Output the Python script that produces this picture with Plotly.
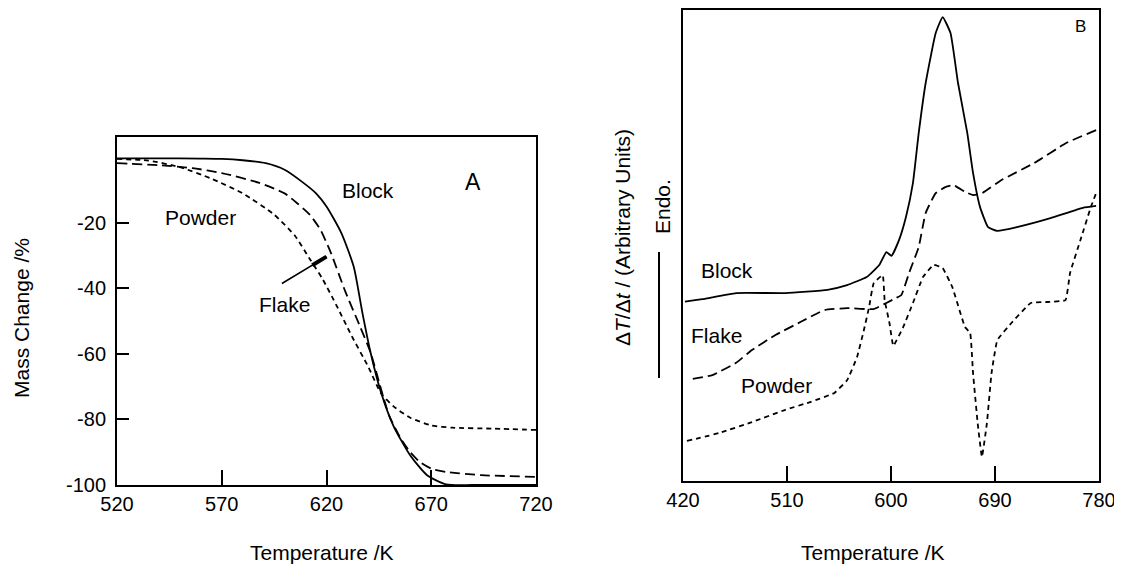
import plotly.graph_objects as go

# ---------------- Panel A: mass change (TGA) ----------------
a_block_T = [520, 540, 560, 570, 580, 591, 600, 609, 615, 620, 627, 633, 637, 641, 646, 652, 660, 668, 677, 690, 720]
a_block_v = [-0.3, -0.3, -0.4, -0.5, -0.9, -1.8, -3.8, -7.8, -11, -15, -23, -33.4, -47, -59.5, -71.7, -82, -91, -97, -99.8, -100, -100]

a_flake_T = [520, 540, 556, 570, 588, 600, 606, 612, 617, 622, 629, 636, 641, 646.6, 650, 655.6, 660, 664.6, 670, 677, 694, 720]
a_flake_v = [-1.8, -2.4, -3.3, -4.8, -7.8, -11, -14, -17.5, -22, -29, -41, -51.6, -59.5, -72, -79, -86, -90, -93, -95, -96, -97, -97.5]

a_powder_T = [520, 535, 550, 565, 580, 595, 605, 612, 618, 625, 632, 640, 646, 652, 660, 670, 680, 700, 720]
a_powder_v = [-0.5, -1, -3, -6.5, -11, -17.5, -24, -31, -37, -45.5, -54.5, -64, -72, -76, -79.5, -81.8, -82.5, -82.8, -83.2]

a_xticks = [520, 570, 620, 670, 720]
a_yticks = [-20, -40, -60, -80, -100]

# ---------------- Panel B: DTA (arbitrary units) ----------------
b_block_T = [421.7, 437, 466, 508.5, 545, 562, 579, 590, 596, 600.4, 607, 613, 619, 624, 630, 638.7, 644.7,
             651.5, 658, 666, 671, 677, 684, 692, 709, 738, 766, 777.5]
b_block_v = [38.1, 38.6, 39.9, 39.9, 40.6, 41.6, 43.3, 45.9, 48.6, 47.8, 51.2, 56.1, 63.3, 73.9, 84.5, 95.1, 98.5,
             95.1, 84.5, 73.9, 65.4, 58.2, 53.9, 53.1, 53.9, 55.8, 58.0, 58.4]

b_flake_T = [428.5, 445.5, 466, 479.6, 500, 522, 542.6, 562, 585, 596, 604.7, 609, 615.7, 624, 630, 638.7, 647,
             654, 664, 671, 678.7, 695.7, 723.8, 752, 777.5]
b_flake_v = [21.7, 22.5, 25.1, 27.8, 31.0, 33.8, 36.3, 36.7, 36.5, 37.8, 38.9, 39.5, 44.2, 49.7, 56.9, 61.1, 62.4,
             62.8, 61.4, 60.7, 61.1, 63.9, 67.5, 71.8, 74.5]

b_powder_T = [423.4, 451.5, 479.6, 508.5, 530.6, 551, 562, 570.6, 576.6, 581, 585, 592.8, 594.5, 598.7, 602,
              610.6, 619, 627.7, 637, 644.7, 653, 664, 668.5, 671, 675, 678.7, 683, 687, 692, 704, 721, 735,
              751, 755, 764, 773, 777.5]
b_powder_v = [8.5, 10.2, 12.5, 15.1, 16.8, 18.7, 21.4, 26.3, 32.1, 36.9, 42.0, 43.7, 38.4, 33.5, 28.7,
              32.7, 37.8, 43.3, 45.9, 45.2, 41.2, 32.7, 31.4, 22.9, 12.3, 5.1, 12.3, 22.9, 29.9, 33.5, 37.8, 38.0,
              38.4, 44.2, 51.2, 58.2, 61.1]

b_xticks = [420, 510, 600, 690, 780]

FONT = "Liberation Sans, Arial, Helvetica, sans-serif"
OFF = 8                      # default page (body) margin of the html page
W, H = 1122 - OFF, 569 - OFF
px = lambda x: (x - OFF) / W
py = lambda y: 1 - (y - OFF) / H

SOLID = "solid"
LONG = "10px,5px"
SHORT = "5px,4px"

fig = go.Figure()

def add(T, v, dash, xa, ya, smooth=0.6):
    fig.add_trace(go.Scatter(x=T, y=v, mode="lines", xaxis=xa, yaxis=ya, showlegend=False,
                             line=dict(color="black", width=1.8, dash=dash, shape="spline", smoothing=smooth),
                             hoverinfo="skip"))

add(a_block_T, a_block_v, SOLID, "x", "y")
add(a_flake_T, a_flake_v, LONG, "x", "y")
add(a_powder_T, a_powder_v, SHORT, "x", "y")

add(b_block_T, b_block_v, SOLID, "x2", "y2", 0.4)
add(b_flake_T, b_flake_v, LONG, "x2", "y2", 0.4)
add(b_powder_T, b_powder_v, SHORT, "x2", "y2", 0.3)

TICKFONT = dict(family=FONT, size=20, color="black")
axis_common = dict(showline=True, mirror=True, linecolor="black", linewidth=2, showgrid=False,
                   zeroline=False, tickcolor="black", tickwidth=1.5, tickfont=TICKFONT,
                   automargin=False)

fig.update_layout(
    width=W, height=H,
    margin=dict(l=0, r=0, t=0, b=0),
    paper_bgcolor="white", plot_bgcolor="white",
    font=dict(family=FONT, size=21, color="black"),
    xaxis=dict(domain=[px(117), px(536)], range=[520, 720], tickvals=a_xticks,
               ticktext=[str(t) for t in a_xticks], ticks="inside", ticklen=15, anchor="y",
               ticklabeloverflow="allow", **axis_common),
    yaxis=dict(domain=[py(485), py(137)], range=[-100, 6.2], tickvals=a_yticks,
               ticktext=[str(t) for t in a_yticks], ticks="inside", ticklen=12, anchor="x",
               ticklabelstandoff=5, ticklabeloverflow="allow", **axis_common),
    xaxis2=dict(domain=[px(683), px(1099)], range=[420, 780], tickvals=b_xticks,
                ticktext=[str(t) for t in b_xticks], ticks="inside", ticklen=15, anchor="y2",
                ticklabeloverflow="allow", **axis_common),
    yaxis2=dict(domain=[py(481), py(10)], range=[0, 100], anchor="x2", showticklabels=False,
                ticks="", **axis_common),
)

tf = dict(family=FONT, size=21, color="black")

def label(x, y, text, xref, yref, font=tf, angle=0):
    return dict(x=x, y=y, xref=xref, yref=yref, text=text, showarrow=False, font=font,
                textangle=angle, xanchor="center", yanchor="middle")

ann = []
# Panel A labels
ann += [
    label(639.7, -10, "Block", "x", "y"),
    label(690, -7.5, "A", "x", "y", dict(family=FONT, size=23, color="black")),
    label(560, -18.5, "Powder", "x", "y"),
    label(599.8, -45, "Flake", "x", "y"),
    # pointer from "Flake" label to the flake curve
    dict(x=620, y=-30.3, ax=598, ay=-38.8, xref="x", yref="y", axref="x", ayref="y", text="",
         showarrow=True, arrowhead=0, arrowwidth=1.6, arrowcolor="black"),
    dict(x=620, y=-30.3, ax=612.5, ay=-33.2, xref="x", yref="y", axref="x", ayref="y", text="",
         showarrow=True, arrowhead=0, arrowwidth=4, arrowcolor="black"),
    label(px(322), py(552), "Temperature /K", "paper", "paper"),
    label(px(21), py(318), "Mass Change /%", "paper", "paper", angle=-90),
]
# Panel B labels
ann += [
    label(458.3, 44.6, "Block", "x2", "y2"),
    label(449, 30.8, "Flake", "x2", "y2"),
    label(500.9, 20.2, "Powder", "x2", "y2"),
    label(763.8, 96.4, "B", "x2", "y2", dict(family=FONT, size=17, color="black")),
    label(px(873), py(552), "Temperature /K", "paper", "paper"),
    label(px(623), py(238), "Δ<i>T</i>/Δ<i>t</i> / (Arbitrary Units)", "paper", "paper", angle=-90),
    label(px(662), py(207), "Endo.", "paper", "paper", angle=-90),
]
fig.update_layout(annotations=ann)
fig.add_shape(type="line", xref="paper", yref="paper", x0=px(659), x1=px(659), y0=py(252), y1=py(378),
              line=dict(color="black", width=2))

fig.write_html("out.html")
